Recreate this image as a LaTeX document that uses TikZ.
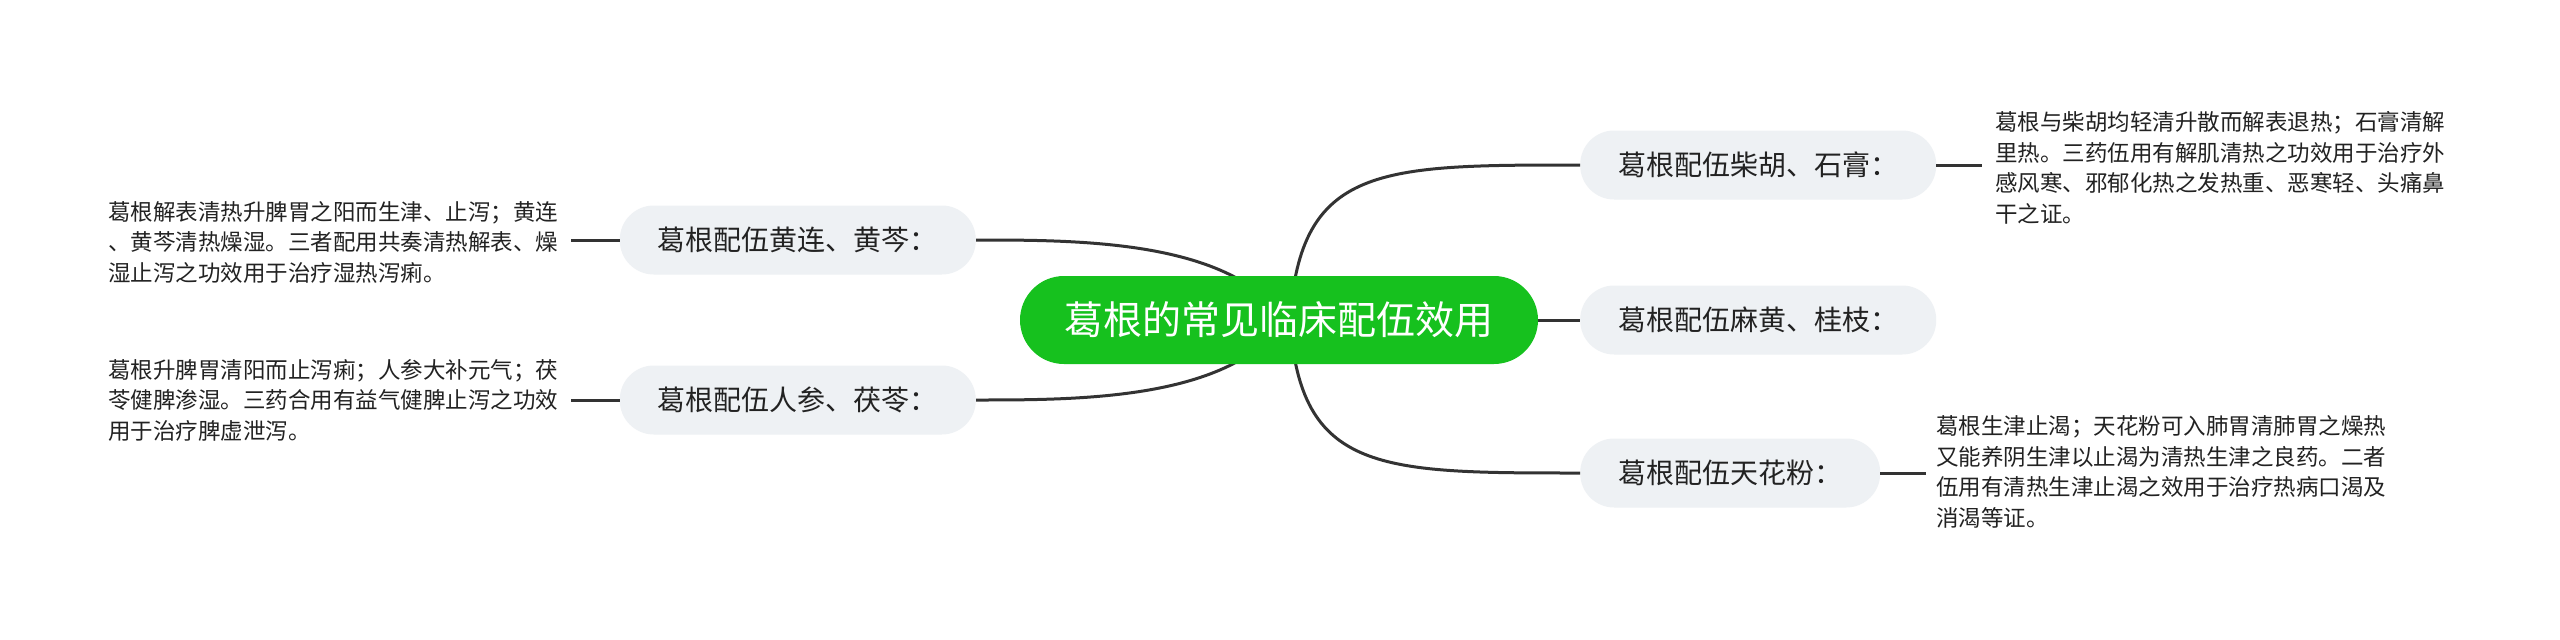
\documentclass[tikz,border=0pt]{standalone}
\usepackage{fontspec}
\setmainfont{Noto Sans CJK SC}
\definecolor{maingreen}{RGB}{22,193,30}
\definecolor{subfill}{RGB}{238,241,244}
\definecolor{linegray}{RGB}{51,51,51}
\definecolor{txtgray}{RGB}{34,34,34}
\tikzset{
  centerbox/.style={fill=maingreen, text=white, rounded corners=44pt, minimum height=88pt, minimum width=518pt, inner xsep=0pt, inner ysep=0pt, font=\fontsize{39}{47}\selectfont},
  subbox/.style={fill=subfill, text=txtgray, rounded corners=34pt, minimum height=69pt, inner xsep=38pt, inner ysep=0pt, font=\fontsize{28}{34}\selectfont},
  detail/.style={text=txtgray, align=left, inner sep=0pt, font=\fontsize{22.5}{30.5}\selectfont},
  conn/.style={draw=linegray, line width=3pt}
}
\begin{document}
\begin{tikzpicture}[x=1pt,y=-1pt]
\useasboundingbox[fill=white] (0,0) rectangle (2560,640);
\coordinate (cr) at (1290,320);
\coordinate (cl) at (1285,320);
\node[subbox, anchor=east] (l1) at (976,240) {葛根配伍黄连、黄芩：};
\node[subbox, anchor=east] (l2) at (976,400) {葛根配伍人参、茯苓：};
\node[subbox, anchor=west] (r1) at (1580,165) {葛根配伍柴胡、石膏：};
\node[subbox, anchor=west] (r2) at (1580,320) {葛根配伍麻黄、桂枝：};
\node[subbox, anchor=west] (r3) at (1580,473) {葛根配伍天花粉：};
\draw[conn] (cr) .. controls (1300,165) and (1380,165) .. (r1.west);
\draw[conn] (cr) .. controls (1300,473) and (1380,473) .. (r3.west);
\draw[conn] (cl) .. controls (1230,240) and (1080,240) .. (l1.east);
\draw[conn] (cl) .. controls (1230,400) and (1080,400) .. (l2.east);
\node[centerbox] (c) at (1279,320) {葛根的常见临床配伍效用};
\draw[conn] (c.east) -- (r2.west);
\node[detail, anchor=west] (t1) at (108,242) {葛根解表清热升脾胃之阳而生津、止泻；黄连\\、黄芩清热燥湿。三者配用共奏清热解表、燥\\湿止泻之功效用于治疗湿热泻痢。};
\node[detail, anchor=west] (t2) at (108,400) {葛根升脾胃清阳而止泻痢；人参大补元气；茯\\苓健脾渗湿。三药合用有益气健脾止泻之功效\\用于治疗脾虚泄泻。};
\node[detail, anchor=west] (t3) at (1995,168) {葛根与柴胡均轻清升散而解表退热；石膏清解\\里热。三药伍用有解肌清热之功效用于治疗外\\感风寒、邪郁化热之发热重、恶寒轻、头痛鼻\\干之证。};
\node[detail, anchor=west] (t4) at (1936,472) {葛根生津止渴；天花粉可入肺胃清肺胃之燥热\\又能养阴生津以止渴为清热生津之良药。二者\\伍用有清热生津止渴之效用于治疗热病口渴及\\消渴等证。};
\draw[conn, shorten >=13pt] (l1.west) -- (l1.west -| t1.east);
\draw[conn, shorten >=13pt] (l2.west) -- (l2.west -| t2.east);
\draw[conn, shorten >=13pt] (r1.east) -- (r1.east -| t3.west);
\draw[conn, shorten >=10pt] (r3.east) -- (r3.east -| t4.west);
\end{tikzpicture}
\end{document}
